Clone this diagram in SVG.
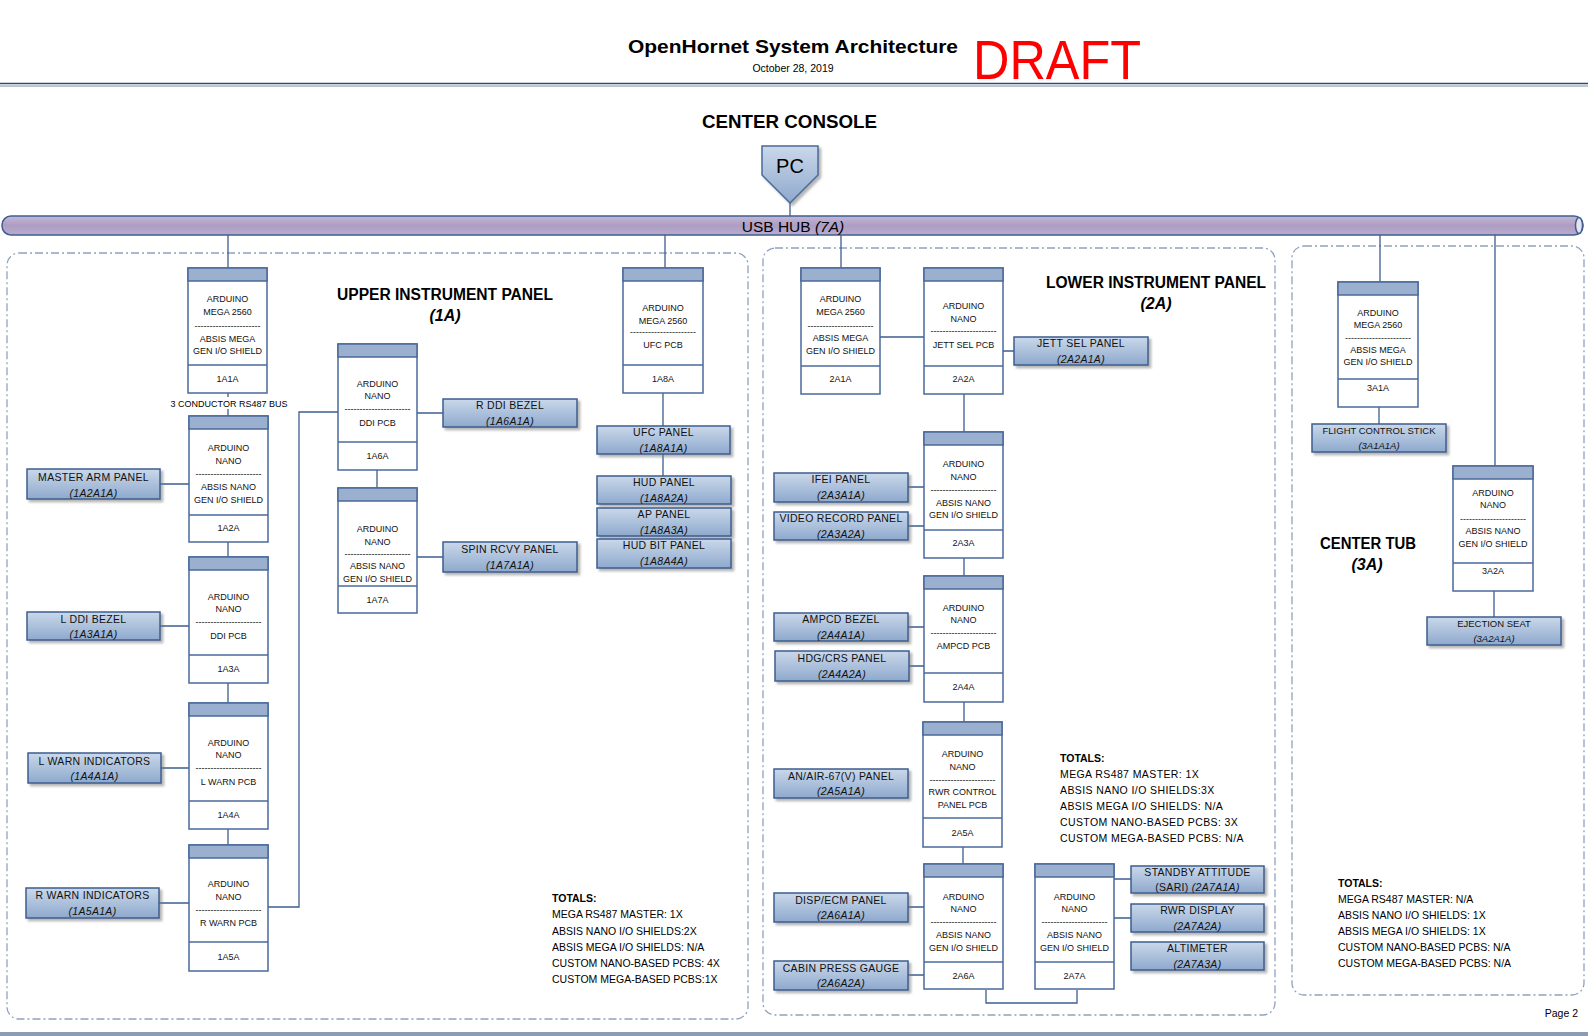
<svg xmlns="http://www.w3.org/2000/svg" width="1588" height="1036" viewBox="0 0 1588 1036">
<defs>
<linearGradient id="pg" x1="0" y1="0" x2="0" y2="1"><stop offset="0" stop-color="#cad8ea"/><stop offset="1" stop-color="#8ea9cd"/></linearGradient>
<linearGradient id="hg" x1="0" y1="0" x2="0" y2="1"><stop offset="0" stop-color="#c3b7d5"/><stop offset="0.5" stop-color="#ad9dc4"/><stop offset="1" stop-color="#b8abcc"/></linearGradient>
<filter id="sh" x="-10%" y="-20%" width="125%" height="150%"><feDropShadow dx="2.5" dy="2.5" stdDeviation="1" flood-color="#777" flood-opacity="0.55"/></filter>
<style>
.bx{fill:#fff;stroke:#4a6a9b;stroke-width:1.5}
.hd{fill:#9bb0cf;stroke:#4a6a9b;stroke-width:1.5}
.dv{stroke:#4a6a9b;stroke-width:1.5}
.t9{font-family:"Liberation Sans",Arial,sans-serif;font-size:9px;fill:#111;text-anchor:middle}
.pn{fill:url(#pg);stroke:#3d5e8e;stroke-width:1.5;filter:url(#sh)}
.pt{font-family:"Liberation Sans",Arial,sans-serif;font-size:10.5px;fill:#111;text-anchor:middle;letter-spacing:0.3px}
.ps{font-size:9.5px;letter-spacing:0}
.pi{font-style:italic}
.ln{stroke:#3d5e8e;stroke-width:1.3;fill:none}
.rg{fill:none;stroke:#8fa3c0;stroke-width:1.3;stroke-dasharray:8 3 2 3}
.rt{font-family:"Liberation Sans",Arial,sans-serif;font-weight:bold;font-size:16px;fill:#000;text-anchor:middle}
.tt{font-family:"Liberation Sans",Arial,sans-serif;font-size:10.5px;fill:#000}
</style>
</defs>
<rect width="1588" height="1036" fill="#fff"/>

<g id="header">
<text x="793" y="53" font-family="Liberation Sans, Arial, sans-serif" font-weight="bold" font-size="18.5" text-anchor="middle" textLength="330" lengthAdjust="spacingAndGlyphs">OpenHornet System Architecture</text>
<text x="793" y="72" font-family="Liberation Sans, Arial, sans-serif" font-size="10.5" text-anchor="middle">October 28, 2019</text>
<text x="973" y="79" font-family="Liberation Sans, Arial, sans-serif" font-size="56" fill="#ff0000" textLength="168" lengthAdjust="spacingAndGlyphs">DRAFT</text>
<line x1="0" y1="83.5" x2="1588" y2="83.5" stroke="#2e4a78" stroke-width="1.5"/>
<line x1="0" y1="86" x2="1588" y2="86" stroke="#a9b3c4" stroke-width="1.5"/>
<text x="789.5" y="128" font-family="Liberation Sans, Arial, sans-serif" font-weight="bold" font-size="18.5" text-anchor="middle" textLength="175" lengthAdjust="spacingAndGlyphs">CENTER CONSOLE</text>
<rect x="0" y="1032" width="1588" height="4" fill="#8d9cb5"/>
<text x="1578" y="1017" font-family="Liberation Sans, Arial, sans-serif" font-size="10.5" text-anchor="end">Page 2</text>
</g>

<g id="regions">
<rect class="rg" x="7" y="253" width="741" height="766" rx="12"/>
<rect class="rg" x="763" y="248" width="512" height="767" rx="12"/>
<rect class="rg" x="1292" y="246" width="292" height="749" rx="12"/>
<text class="rt" x="445" y="300" textLength="216" lengthAdjust="spacingAndGlyphs">UPPER INSTRUMENT PANEL</text>
<text class="rt" x="445" y="321" font-style="italic">(1A)</text>
<text class="rt" x="1156" y="288" textLength="220" lengthAdjust="spacingAndGlyphs">LOWER INSTRUMENT PANEL</text>
<text class="rt" x="1156" y="309" font-style="italic">(2A)</text>
<text class="rt" x="1368" y="549" textLength="96" lengthAdjust="spacingAndGlyphs">CENTER TUB</text>
<text class="rt" x="1367" y="570" font-style="italic">(3A)</text>
</g>

<g id="connectors">
<path class="ln" d="M790 203V216M228 235V268M665 235V268M841 235V268M1380 235V282M1495 235V466"/>
<path class="ln" d="M228 393V416M228 542V557M228 683V703M228 829V845"/>
<path class="ln" d="M160 484H189M160 626H189M161 768H189M159 903H189M268 907H299V412H338M417 413H443M377 470V488M417 557H443M663 393V426M663 454V476"/>
<path class="ln" d="M880 337H924M1003 351H1014M964 394V432M908 487H924M908 526H924M964 558V576M908 627H924M909 666H924M964 702V722M963 847V864M908 907H924M908 975H924M1114 879H1131M1114 918H1131M986 990V1003H1077V990"/>
<path class="ln" d="M1379 407V424M1494 591V617"/>
<rect x="172" y="397" width="114" height="12" fill="#fff"/>
<text x="229" y="406.5" font-family="Liberation Sans, Arial, sans-serif" font-size="9" text-anchor="middle">3 CONDUCTOR RS487 BUS</text>
</g>

<g id="pc">
<path d="M762 146H818V175L790 203L762 175Z" fill="url(#pg)" stroke="#4a6a9b" stroke-width="1.5" filter="url(#sh)"/>
<text x="790" y="173" font-family="Liberation Sans, Arial, sans-serif" font-size="20" text-anchor="middle">PC</text>
</g>

<g id="usbhub">
<rect x="2" y="216" width="1581" height="19" rx="9" fill="url(#hg)" stroke="#3f5f8f" stroke-width="1.5"/>
<ellipse cx="1579" cy="225.5" rx="3.5" ry="8" fill="#e8e3f0" stroke="#3f5f8f" stroke-width="1.5"/>
<text x="793" y="231.5" font-family="Liberation Sans, Arial, sans-serif" font-size="15.5" text-anchor="middle">USB HUB <tspan font-style="italic">(7A)</tspan></text>
</g>

<!-- Arduino boxes -->
<g id="n1A1A" transform="translate(188,268)">
<rect class="bx" width="79" height="125"/><rect class="hd" width="79" height="13"/><line class="dv" x1="0" y1="97" x2="79" y2="97"/>
<text class="t9" x="39.5" y="34">ARDUINO</text><text class="t9" x="39.5" y="47">MEGA 2560</text><text class="t9" x="39.5" y="61">----------------------</text><text class="t9" x="39.5" y="73.5">ABSIS MEGA</text><text class="t9" x="39.5" y="86">GEN I/O SHIELD</text><text class="t9" x="39.5" y="113.5">1A1A</text>
</g>
<g id="n1A2A" transform="translate(189,416)">
<rect class="bx" width="79" height="126"/><rect class="hd" width="79" height="13"/><line class="dv" x1="0" y1="99" x2="79" y2="99"/>
<text class="t9" x="39.5" y="34.5">ARDUINO</text><text class="t9" x="39.5" y="47.5">NANO</text><text class="t9" x="39.5" y="61">----------------------</text><text class="t9" x="39.5" y="74">ABSIS NANO</text><text class="t9" x="39.5" y="86.5">GEN I/O SHIELD</text><text class="t9" x="39.5" y="114.5">1A2A</text>
</g>
<g id="n1A3A" transform="translate(189,557)">
<rect class="bx" width="79" height="126"/><rect class="hd" width="79" height="13"/><line class="dv" x1="0" y1="98" x2="79" y2="98"/>
<text class="t9" x="39.5" y="42.5">ARDUINO</text><text class="t9" x="39.5" y="54.5">NANO</text><text class="t9" x="39.5" y="68">----------------------</text><text class="t9" x="39.5" y="81.5">DDI PCB</text><text class="t9" x="39.5" y="114.5">1A3A</text>
</g>
<g id="n1A4A" transform="translate(189,703)">
<rect class="bx" width="79" height="126"/><rect class="hd" width="79" height="13"/><line class="dv" x1="0" y1="98" x2="79" y2="98"/>
<text class="t9" x="39.5" y="42.5">ARDUINO</text><text class="t9" x="39.5" y="54.5">NANO</text><text class="t9" x="39.5" y="68">----------------------</text><text class="t9" x="39.5" y="81.5">L WARN PCB</text><text class="t9" x="39.5" y="114.5">1A4A</text>
</g>
<g id="n1A5A" transform="translate(189,845)">
<rect class="bx" width="79" height="126"/><rect class="hd" width="79" height="13"/><line class="dv" x1="0" y1="97" x2="79" y2="97"/>
<text class="t9" x="39.5" y="41.5">ARDUINO</text><text class="t9" x="39.5" y="54.5">NANO</text><text class="t9" x="39.5" y="68">----------------------</text><text class="t9" x="39.5" y="80.5">R WARN PCB</text><text class="t9" x="39.5" y="114.5">1A5A</text>
</g>
<g id="n1A6A" transform="translate(338,344)">
<rect class="bx" width="79" height="126"/><rect class="hd" width="79" height="13"/><line class="dv" x1="0" y1="98" x2="79" y2="98"/>
<text class="t9" x="39.5" y="42.5">ARDUINO</text><text class="t9" x="39.5" y="54.5">NANO</text><text class="t9" x="39.5" y="68">----------------------</text><text class="t9" x="39.5" y="81.5">DDI PCB</text><text class="t9" x="39.5" y="115">1A6A</text>
</g>
<g id="n1A7A" transform="translate(338,488)">
<rect class="bx" width="79" height="125"/><rect class="hd" width="79" height="13"/><line class="dv" x1="0" y1="98" x2="79" y2="98"/>
<text class="t9" x="39.5" y="44">ARDUINO</text><text class="t9" x="39.5" y="56.5">NANO</text><text class="t9" x="39.5" y="68.5">----------------------</text><text class="t9" x="39.5" y="81">ABSIS NANO</text><text class="t9" x="39.5" y="94">GEN I/O SHIELD</text><text class="t9" x="39.5" y="114.5">1A7A</text>
</g>
<g id="n1A8A" transform="translate(623,268)">
<rect class="bx" width="80" height="125"/><rect class="hd" width="80" height="13"/><line class="dv" x1="0" y1="97" x2="80" y2="97"/>
<text class="t9" x="40" y="42.5">ARDUINO</text><text class="t9" x="40" y="55.5">MEGA 2560</text><text class="t9" x="40" y="67">----------------------</text><text class="t9" x="40" y="79.5">UFC PCB</text><text class="t9" x="40" y="113.5">1A8A</text>
</g>
<g id="n2A1A" transform="translate(801,268)">
<rect class="bx" width="79" height="126"/><rect class="hd" width="79" height="13"/><line class="dv" x1="0" y1="98" x2="79" y2="98"/>
<text class="t9" x="39.5" y="34">ARDUINO</text><text class="t9" x="39.5" y="47">MEGA 2560</text><text class="t9" x="39.5" y="60.5">----------------------</text><text class="t9" x="39.5" y="73">ABSIS MEGA</text><text class="t9" x="39.5" y="86">GEN I/O SHIELD</text><text class="t9" x="39.5" y="114">2A1A</text>
</g>
<g id="n2A2A" transform="translate(924,268)">
<rect class="bx" width="79" height="126"/><rect class="hd" width="79" height="13"/><line class="dv" x1="0" y1="98" x2="79" y2="98"/>
<text class="t9" x="39.5" y="40.5">ARDUINO</text><text class="t9" x="39.5" y="53.5">NANO</text><text class="t9" x="39.5" y="66">----------------------</text><text class="t9" x="39.5" y="79.5">JETT SEL PCB</text><text class="t9" x="39.5" y="114">2A2A</text>
</g>
<g id="n2A3A" transform="translate(924,432)">
<rect class="bx" width="79" height="126"/><rect class="hd" width="79" height="13"/><line class="dv" x1="0" y1="98" x2="79" y2="98"/>
<text class="t9" x="39.5" y="34.5">ARDUINO</text><text class="t9" x="39.5" y="47.5">NANO</text><text class="t9" x="39.5" y="61">----------------------</text><text class="t9" x="39.5" y="74">ABSIS NANO</text><text class="t9" x="39.5" y="86">GEN I/O SHIELD</text><text class="t9" x="39.5" y="114">2A3A</text>
</g>
<g id="n2A4A" transform="translate(924,576)">
<rect class="bx" width="79" height="126"/><rect class="hd" width="79" height="13"/><line class="dv" x1="0" y1="97" x2="79" y2="97"/>
<text class="t9" x="39.5" y="34.5">ARDUINO</text><text class="t9" x="39.5" y="46.5">NANO</text><text class="t9" x="39.5" y="60">----------------------</text><text class="t9" x="39.5" y="73">AMPCD PCB</text><text class="t9" x="39.5" y="113.5">2A4A</text>
</g>
<g id="n2A5A" transform="translate(923,722)">
<rect class="bx" width="79" height="125"/><rect class="hd" width="79" height="13"/><line class="dv" x1="0" y1="96" x2="79" y2="96"/>
<text class="t9" x="39.5" y="34.5">ARDUINO</text><text class="t9" x="39.5" y="48">NANO</text><text class="t9" x="39.5" y="61">----------------------</text><text class="t9" x="39.5" y="72.5">RWR CONTROL</text><text class="t9" x="39.5" y="85.5">PANEL PCB</text><text class="t9" x="39.5" y="114">2A5A</text>
</g>
<g id="n2A6A" transform="translate(924,864)">
<rect class="bx" width="79" height="125"/><rect class="hd" width="79" height="13"/><line class="dv" x1="0" y1="98" x2="79" y2="98"/>
<text class="t9" x="39.5" y="36">ARDUINO</text><text class="t9" x="39.5" y="47.5">NANO</text><text class="t9" x="39.5" y="61">----------------------</text><text class="t9" x="39.5" y="73.5">ABSIS NANO</text><text class="t9" x="39.5" y="86.5">GEN I/O SHIELD</text><text class="t9" x="39.5" y="114.5">2A6A</text>
</g>
<g id="n2A7A" transform="translate(1035,864)">
<rect class="bx" width="79" height="125"/><rect class="hd" width="79" height="13"/><line class="dv" x1="0" y1="98" x2="79" y2="98"/>
<text class="t9" x="39.5" y="36">ARDUINO</text><text class="t9" x="39.5" y="47.5">NANO</text><text class="t9" x="39.5" y="61">----------------------</text><text class="t9" x="39.5" y="73.5">ABSIS NANO</text><text class="t9" x="39.5" y="86.5">GEN I/O SHIELD</text><text class="t9" x="39.5" y="114.5">2A7A</text>
</g>
<g id="n3A1A" transform="translate(1338,282)">
<rect class="bx" width="80" height="125"/><rect class="hd" width="80" height="13"/><line class="dv" x1="0" y1="97" x2="80" y2="97"/>
<text class="t9" x="40" y="34">ARDUINO</text><text class="t9" x="40" y="46">MEGA 2560</text><text class="t9" x="40" y="58.5">----------------------</text><text class="t9" x="40" y="71">ABSIS MEGA</text><text class="t9" x="40" y="83">GEN I/O SHIELD</text><text class="t9" x="40" y="108.5">3A1A</text>
</g>
<g id="n3A2A" transform="translate(1453,466)">
<rect class="bx" width="80" height="125"/><rect class="hd" width="80" height="13"/><line class="dv" x1="0" y1="97" x2="80" y2="97"/>
<text class="t9" x="40" y="30">ARDUINO</text><text class="t9" x="40" y="42">NANO</text><text class="t9" x="40" y="56">----------------------</text><text class="t9" x="40" y="68">ABSIS NANO</text><text class="t9" x="40" y="81">GEN I/O SHIELD</text><text class="t9" x="40" y="108">3A2A</text>
</g>

<!-- Panels -->
<g id="p1A2A1A" transform="translate(27,469)"><rect class="pn" width="133" height="30"/><text class="pt" x="66.5" y="12">MASTER ARM PANEL</text><text class="pt pi" x="66.5" y="27.5">(1A2A1A)</text></g>
<g id="p1A3A1A" transform="translate(27,612)"><rect class="pn" width="133" height="28"/><text class="pt" x="66.5" y="10.5">L DDI BEZEL</text><text class="pt pi" x="66.5" y="26">(1A3A1A)</text></g>
<g id="p1A4A1A" transform="translate(28,753)"><rect class="pn" width="133" height="30"/><text class="pt" x="66.5" y="11.5">L WARN INDICATORS</text><text class="pt pi" x="66.5" y="27">(1A4A1A)</text></g>
<g id="p1A5A1A" transform="translate(26,888)"><rect class="pn" width="133" height="30"/><text class="pt" x="66.5" y="11">R WARN INDICATORS</text><text class="pt pi" x="66.5" y="27">(1A5A1A)</text></g>
<g id="p1A6A1A" transform="translate(443,399)"><rect class="pn" width="134" height="28"/><text class="pt" x="67" y="10">R DDI BEZEL</text><text class="pt pi" x="67" y="26">(1A6A1A)</text></g>
<g id="p1A7A1A" transform="translate(443,542)"><rect class="pn" width="134" height="30"/><text class="pt" x="67" y="11">SPIN RCVY PANEL</text><text class="pt pi" x="67" y="27">(1A7A1A)</text></g>
<g id="p1A8A1A" transform="translate(597,426)"><rect class="pn" width="133" height="28"/><text class="pt" x="66.5" y="10">UFC PANEL</text><text class="pt pi" x="66.5" y="26">(1A8A1A)</text></g>
<g id="p1A8A2A" transform="translate(597,476)"><rect class="pn" width="134" height="28"/><text class="pt" x="67" y="10">HUD PANEL</text><text class="pt pi" x="67" y="26">(1A8A2A)</text></g>
<g id="p1A8A3A" transform="translate(597,508)"><rect class="pn" width="134" height="28"/><text class="pt" x="67" y="10">AP PANEL</text><text class="pt pi" x="67" y="26">(1A8A3A)</text></g>
<g id="p1A8A4A" transform="translate(597,539)"><rect class="pn" width="134" height="29"/><text class="pt" x="67" y="10">HUD BIT PANEL</text><text class="pt pi" x="67" y="26">(1A8A4A)</text></g>
<g id="p2A2A1A" transform="translate(1014,337)"><rect class="pn" width="134" height="28"/><text class="pt" x="67" y="10">JETT SEL PANEL</text><text class="pt pi" x="67" y="26">(2A2A1A)</text></g>
<g id="p2A3A1A" transform="translate(774,473)"><rect class="pn" width="134" height="29"/><text class="pt" x="67" y="10">IFEI PANEL</text><text class="pt pi" x="67" y="26">(2A3A1A)</text></g>
<g id="p2A3A2A" transform="translate(774,512)"><rect class="pn" width="134" height="28"/><text class="pt" x="67" y="10">VIDEO RECORD PANEL</text><text class="pt pi" x="67" y="26">(2A3A2A)</text></g>
<g id="p2A4A1A" transform="translate(774,613)"><rect class="pn" width="134" height="28"/><text class="pt" x="67" y="10">AMPCD BEZEL</text><text class="pt pi" x="67" y="26">(2A4A1A)</text></g>
<g id="p2A4A2A" transform="translate(775,651)"><rect class="pn" width="134" height="30"/><text class="pt" x="67" y="11">HDG/CRS PANEL</text><text class="pt pi" x="67" y="27">(2A4A2A)</text></g>
<g id="p2A5A1A" transform="translate(774,769)"><rect class="pn" width="134" height="29"/><text class="pt" x="67" y="10.5">AN/AIR-67(V) PANEL</text><text class="pt pi" x="67" y="26">(2A5A1A)</text></g>
<g id="p2A6A1A" transform="translate(774,893)"><rect class="pn" width="134" height="29"/><text class="pt" x="67" y="10.5">DISP/ECM PANEL</text><text class="pt pi" x="67" y="26">(2A6A1A)</text></g>
<g id="p2A6A2A" transform="translate(774,961)"><rect class="pn" width="134" height="29"/><text class="pt" x="67" y="10.5">CABIN PRESS GAUGE</text><text class="pt pi" x="67" y="26">(2A6A2A)</text></g>
<g id="p2A7A1A" transform="translate(1131,866)"><rect class="pn" width="133" height="27"/><text class="pt" x="66.5" y="9.5">STANDBY ATTITUDE</text><text class="pt" x="66.5" y="25">(SARI) <tspan class="pi">(2A7A1A)</tspan></text></g>
<g id="p2A7A2A" transform="translate(1131,904)"><rect class="pn" width="133" height="28"/><text class="pt" x="66.5" y="10">RWR DISPLAY</text><text class="pt pi" x="66.5" y="26">(2A7A2A)</text></g>
<g id="p2A7A3A" transform="translate(1131,942)"><rect class="pn" width="133" height="28"/><text class="pt" x="66.5" y="10">ALTIMETER</text><text class="pt pi" x="66.5" y="26">(2A7A3A)</text></g>
<g id="p3A1A1A" transform="translate(1312,424)"><rect class="pn" width="134" height="28"/><text class="pt ps" x="67" y="9.5">FLIGHT CONTROL STICK</text><text class="pt ps pi" x="67" y="24.5">(3A1A1A)</text></g>
<g id="p3A2A1A" transform="translate(1427,617)"><rect class="pn" width="134" height="28"/><text class="pt ps" x="67" y="9.5">EJECTION SEAT</text><text class="pt ps pi" x="67" y="24.5">(3A2A1A)</text></g>

<g id="totals1A">
<text class="tt" x="552" y="902" font-weight="bold">TOTALS:</text>
<text class="tt" x="552" y="918">MEGA RS487 MASTER: 1X</text>
<text class="tt" x="552" y="935">ABSIS NANO I/O SHIELDS:2X</text>
<text class="tt" x="552" y="951">ABSIS MEGA I/O SHIELDS: N/A</text>
<text class="tt" x="552" y="967">CUSTOM NANO-BASED PCBS: 4X</text>
<text class="tt" x="552" y="983">CUSTOM MEGA-BASED PCBS:1X</text>
</g>
<g id="totals2A">
<text class="tt" x="1060" y="762" font-weight="bold">TOTALS:</text>
<text class="tt" x="1060" y="778" letter-spacing="0.4">MEGA RS487 MASTER: 1X</text>
<text class="tt" x="1060" y="794" letter-spacing="0.4">ABSIS NANO I/O SHIELDS:3X</text>
<text class="tt" x="1060" y="810" letter-spacing="0.4">ABSIS MEGA I/O SHIELDS: N/A</text>
<text class="tt" x="1060" y="826" letter-spacing="0.4">CUSTOM NANO-BASED PCBS: 3X</text>
<text class="tt" x="1060" y="842" letter-spacing="0.4">CUSTOM MEGA-BASED PCBS: N/A</text>
</g>
<g id="totals3A">
<text class="tt" x="1338" y="887" font-weight="bold">TOTALS:</text>
<text class="tt" x="1338" y="903">MEGA RS487 MASTER: N/A</text>
<text class="tt" x="1338" y="919">ABSIS NANO I/O SHIELDS: 1X</text>
<text class="tt" x="1338" y="935">ABSIS MEGA I/O SHIELDS: 1X</text>
<text class="tt" x="1338" y="951">CUSTOM NANO-BASED PCBS: N/A</text>
<text class="tt" x="1338" y="967">CUSTOM MEGA-BASED PCBS: N/A</text>
</g>
</svg>
